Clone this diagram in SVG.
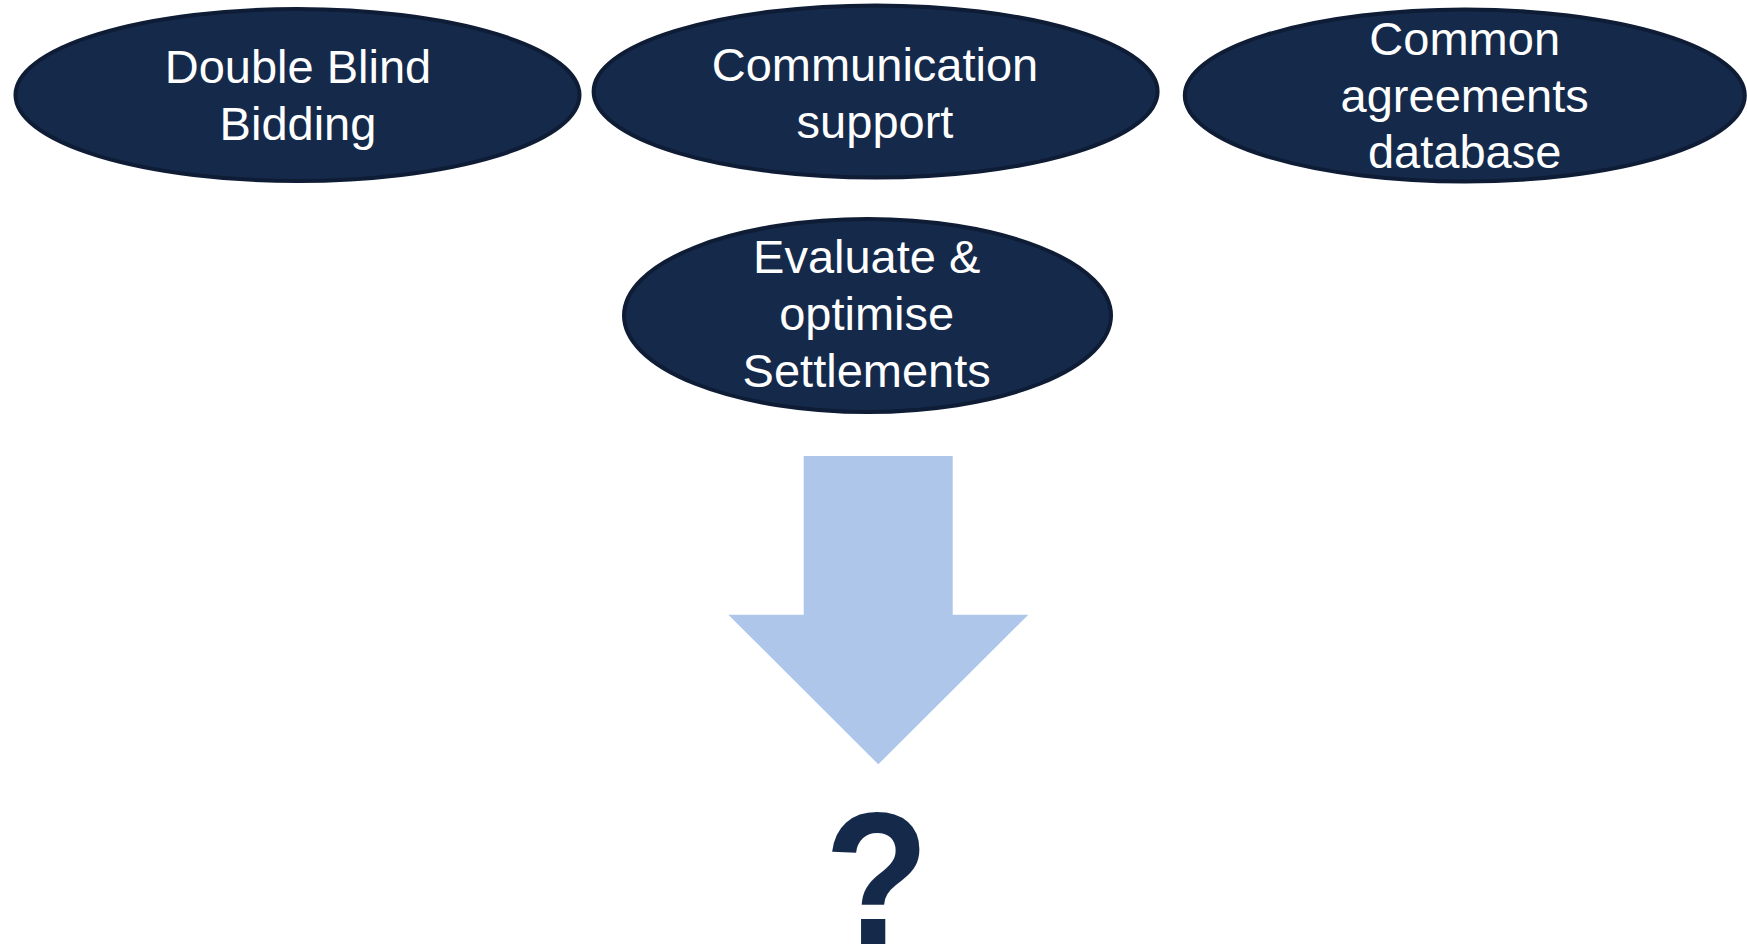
<svg xmlns="http://www.w3.org/2000/svg" width="1747" height="944" viewBox="0 0 1747 944">
<style>
.node ellipse{fill:#152a4b;stroke:#0e1c35;stroke-width:4}
.node text{fill:#ffffff;font-family:"Liberation Sans",Arial,sans-serif;font-size:47px;text-anchor:middle}
.q{fill:#152a4b;font-family:"Liberation Sans",Arial,sans-serif;font-size:172px;font-weight:bold;text-anchor:middle}
</style>
<rect width="1747" height="944" fill="#ffffff"/>
<g id="node-double-blind" class="node">
<ellipse cx="297.5" cy="95" rx="282" ry="86"/>
<text x="298" y="83.3">Double Blind</text>
<text x="298" y="140">Bidding</text>
</g>
<g id="node-communication" class="node">
<ellipse cx="875.6" cy="91.5" rx="282" ry="86"/>
<text x="875" y="81">Communication</text>
<text x="875" y="138">support</text>
</g>
<g id="node-common-db" class="node">
<ellipse cx="1464.8" cy="95.5" rx="280" ry="86"/>
<text x="1464.7" y="55">Common</text>
<text x="1464.7" y="111.7">agreements</text>
<text x="1464.7" y="168.3">database</text>
</g>
<g id="node-evaluate" class="node">
<ellipse cx="867.5" cy="315.5" rx="243.5" ry="96.5"/>
<text x="866.7" y="273">Evaluate &amp;</text>
<text x="866.7" y="330">optimise</text>
<text x="866.7" y="387">Settlements</text>
</g>
<g id="connectors">
<polygon points="803.7,456 952.7,456 952.7,614.7 1028.3,614.7 878.3,764.3 728.3,614.7 803.7,614.7" fill="#adc6ea"/>
</g>
<g id="node-question">
<text class="q" transform="translate(876.7,944) scale(1,1.1)" x="0" y="0">?</text>
</g>
</svg>
